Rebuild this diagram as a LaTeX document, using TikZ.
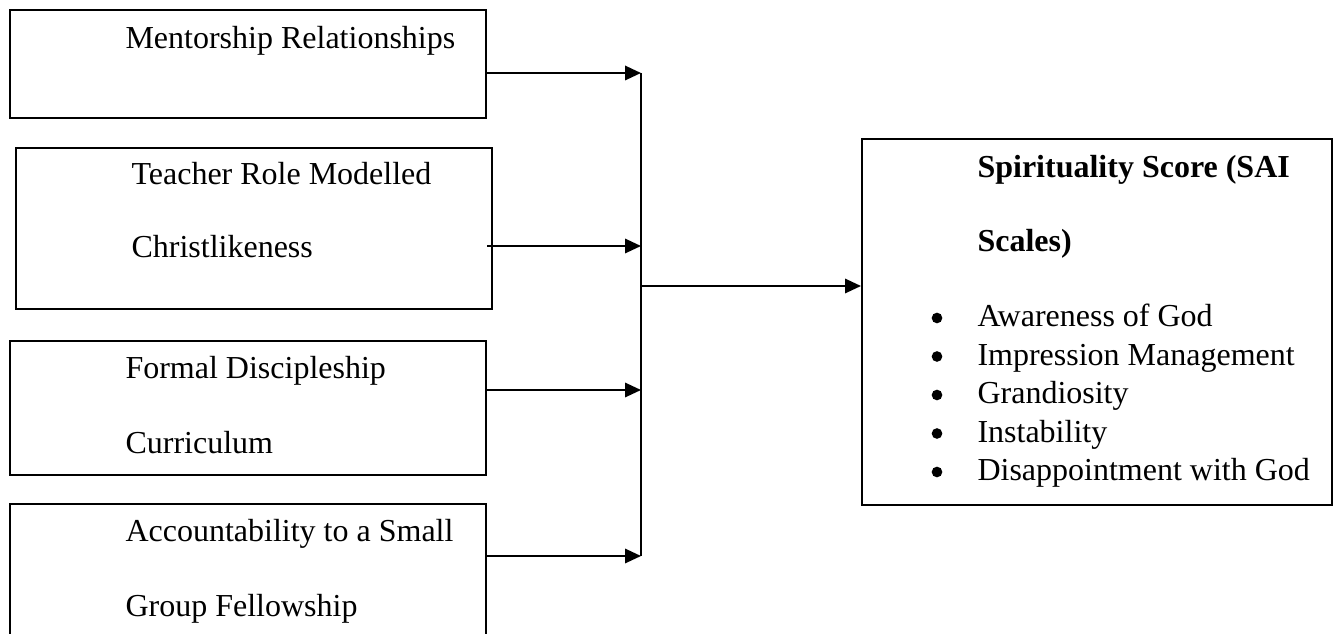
\documentclass[tikz,border=0pt]{standalone}
\usepackage{fontspec}
\setmainfont{Liberation Serif}
\usetikzlibrary{arrows.meta}
\def\px{0.375pt}

\begin{document}
\begin{tikzpicture}[x=\px, y=-\px, >={Triangle[length=6pt, width=5.4pt]},
  box/.style={draw, line width=0.75pt, rectangle, inner sep=0pt, anchor=north west, minimum width=476*\px},
  lbl/.style={anchor=base west, inner sep=0pt, font=\fontsize{12}{14}\selectfont},
  dot/.style={circle, fill, inner sep=0pt, minimum size=4pt},
  link/.style={->, line width=0.8pt}]
  \clip (0,0) rectangle (1336,634);
  % the four inputs
  \node[box, minimum height=108*\px] (mentor) at (9,9) {};
  \node[box, minimum height=161*\px] (teacher) at (15,147) {};
  \node[box, minimum height=134*\px] (formal) at (9,340) {};
  \node[box, minimum height=157*\px] (group) at (9,503) {};
  \node[lbl] (mentor1) at (125,49) {Mentorship Relationships};
  \node[lbl] (teacher1) at (131,185) {Teacher Role Modelled};
  \node[lbl] (teacher2) at (131,258) {Christlikeness};
  \node[lbl] (formal1) at (125,379) {Formal Discipleship};
  \node[lbl] (formal2) at (125,453) {Curriculum};
  \node[lbl] (group1) at (125,542) {Accountability to a Small};
  \node[lbl] (group2) at (125,616) {Group Fellowship};
  % outcome
  \node[box, minimum width=470*\px, minimum height=366*\px] (sai) at (861,138) {};
  \node[lbl, font=\fontsize{12}{14}\selectfont\bfseries] (sai1) at (977,178) {Spirituality Score (SAI};
  \node[lbl, font=\fontsize{12}{14}\selectfont\bfseries] (sai2) at (977,252) {Scales)};
  \foreach \t [count=\i from 0] in {Awareness of God, Impression Management, Grandiosity, Instability, Disappointment with God} {
    \node[dot] (dot\i) at (937,318+38.5*\i) {};
    \node[lbl] (item\i) at (977,327+38.5*\i) {\t};
  }
  % junctions on the bar
  \coordinate (j1) at (641,73);
  \coordinate (j2) at (641,246);
  \coordinate (j3) at (641,390);
  \coordinate (j4) at (641,556);
  \coordinate (hub) at (641,286);
  \draw[link] (mentor.east |- j1) -- (j1);
  \draw[link] (mentor.east |- j2) -- (j2);
  \draw[link] (formal.east |- j3) -- (j3);
  \draw[link] (group.east |- j4) -- (j4);
  \draw[line width=0.6pt] (j1) -- (j4);
  \draw[link] (hub) -- (sai.west |- hub);
\end{tikzpicture}
\end{document}
